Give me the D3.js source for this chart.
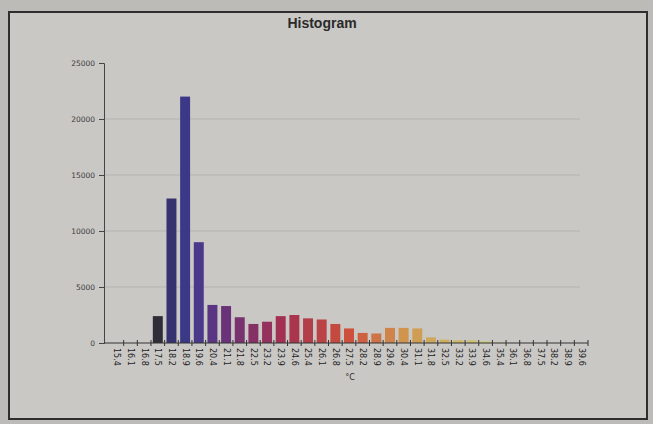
<!DOCTYPE html>
<html>
<head>
<meta charset="utf-8">
<script src="https://cdn.jsdelivr.net/npm/d3@7"></script>
<style>
  body { margin: 0; background: #bdbbb8; }
  svg { display: block; }
</style>
</head>
<body>
<svg id="chart" width="653" height="424"></svg>
<script>
// bin labels (°C) and counts
const bins = ["15.4","16.1","16.8","17.5","18.2","18.9","19.6","20.4","21.1","21.8",
              "22.5","23.2","23.9","24.6","25.4","26.1","26.8","27.5","28.2","28.9",
              "29.6","30.4","31.1","31.8","32.5","33.2","33.9","34.6","35.4","36.1",
              "36.8","37.5","38.2","38.9","39.6"];
const counts = [0, 0, 0, 2400, 12900, 22000, 9000, 3400, 3300, 2300,
                1700, 1900, 2400, 2500, 2200, 2100, 1700, 1300, 900, 850,
                1350, 1350, 1300, 500, 300, 250, 250, 150, 50, 0,
                0, 0, 0, 0, 0];
const yTicks = [0, 5000, 10000, 15000, 20000, 25000];

var svg = d3.select("#chart");

// panel
svg.append("rect")
  .attr("x", 9).attr("y", 12)
  .attr("width", 638).attr("height", 407)
  .attr("fill", "#cac8c5")
  .attr("stroke", "#2e2e2e")
  .attr("stroke-width", 2);

svg.append("text")
  .attr("x", 322).attr("y", 28)
  .attr("text-anchor", "middle")
  .style("font-family", "'Liberation Sans', Arial, sans-serif")
  .style("font-weight", "bold")
  .style("font-size", "14px")
  .attr("fill", "#2a2a2a")
  .text("Histogram");

var x = d3.scaleBand()
  .domain(bins)
  .range([110, 588])
  .paddingInner(0.27)
  .paddingOuter(0.135);

var y = d3.scaleLinear()
  .domain([0, 25000])
  .range([343, 63]);

var color = d3.scaleLinear()
  .domain([3, 4, 5, 6, 8, 12, 17, 21, 25])
  .range(["#2f2d38", "#363270", "#3b3888", "#4a388a", "#6a3278", "#a23052", "#cc503c", "#d0954d", "#cdb866"]);

// grid lines
svg.append("g")
  .selectAll("line")
  .data(yTicks.filter(d => d > 0 && d < 25000))
  .enter().append("line")
  .attr("x1", 104).attr("x2", 580)
  .attr("y1", d => y(d)).attr("y2", d => y(d))
  .attr("stroke", "#b5b3b0")
  .attr("stroke-width", 1);

// bars
svg.append("g")
  .selectAll("rect")
  .data(counts)
  .enter().append("rect")
  .attr("x", (d, i) => x(bins[i]))
  .attr("width", x.bandwidth())
  .attr("y", d => y(d))
  .attr("height", d => y(0) - y(d))
  .attr("fill", (d, i) => color(i));

// y axis
var yAxis = svg.append("g")
  .attr("transform", "translate(104,0)")
  .call(d3.axisLeft(y).tickValues(yTicks).tickSize(5).tickFormat(d3.format("d")));
yAxis.selectAll("text")
  .style("font-family", "'DejaVu Sans', sans-serif")
  .style("font-size", "7.5px")
  .attr("fill", "#3a3a3a")
  .attr("x", -9);
yAxis.selectAll("line").attr("stroke", "#444");
yAxis.select(".domain").attr("stroke", "#444");

// x axis - labels under bar centres, tick marks on bin edges
var xAxis = svg.append("g")
  .attr("transform", "translate(0," + y(0) + ")")
  .call(d3.axisBottom(x).tickSize(0).tickPadding(0));
xAxis.select(".domain").attr("d", "M104,0H588").attr("stroke", "#333");
xAxis.selectAll("text")
  .attr("transform", "rotate(90)")
  .attr("x", 5).attr("y", 0).attr("dy", "0.32em")
  .attr("text-anchor", "start")
  .style("font-family", "'DejaVu Sans', sans-serif")
  .style("font-size", "8px")
  .attr("fill", "#222");

var step = x.step();
xAxis.append("g")
  .selectAll("line")
  .data(bins)
  .enter().append("line")
  .attr("x1", d => x(d) + x.bandwidth() + (step - x.bandwidth()) / 2)
  .attr("x2", d => x(d) + x.bandwidth() + (step - x.bandwidth()) / 2)
  .attr("y1", -3).attr("y2", 3)
  .attr("stroke", "#333");

svg.append("text")
  .attr("x", 350).attr("y", 380)
  .attr("text-anchor", "middle")
  .style("font-family", "'DejaVu Sans', sans-serif")
  .style("font-size", "8px")
  .attr("fill", "#2a2a2a")
  .text("°C");
</script>
</body>
</html>
